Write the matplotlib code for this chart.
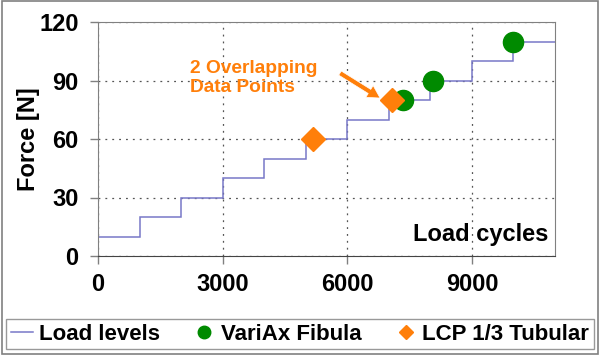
import matplotlib
matplotlib.use("Agg")
import matplotlib.pyplot as plt
from matplotlib.patches import Rectangle

plt.rcParams['font.family'] = ['Liberation Sans', 'DejaVu Sans']
plt.rcParams['font.weight'] = 'bold'

# load levels: one step per 1000 cycles
step_edges = [0, 1000, 2000, 3000, 4000, 5000, 6000, 7000, 8000, 9000, 10000, 11000]
step_levels = [10, 20, 30, 40, 50, 60, 70, 80, 90, 100, 110]

variax_cycles = [7350, 8070, 9990]
variax_force = [80, 90, 110]

lcp_cycles = [5180, 7070]
lcp_force = [60, 80]

x_ticks = [0, 3000, 6000, 9000]
y_ticks = [0, 30, 60, 90, 120]

orange = '#ff7f0a'
green = '#008a00'
gray = '#808080'

fig = plt.figure(figsize=(6, 3.55), dpi=100)
ax = fig.add_axes([98/600, 1 - 256/355, (555-98)/600, (256-22)/355])

ax.stairs(step_levels, step_edges, baseline=None, color='#7878c8', lw=1.1,
          label='Load levels', zorder=2)
ax.plot(variax_cycles, variax_force, 'o', color=green, ms=14.5, mec=green,
        label='VariAx Fibula', zorder=3)
ax.plot(lcp_cycles, lcp_force, 'D', color=orange, ms=12, mec=orange,
        label='LCP 1/3 Tubular', zorder=4)

ax.set_xlim(0, 11000)
ax.set_ylim(0, 120)
ax.set_xticks(x_ticks)
ax.set_yticks(y_ticks)
ax.grid(True, linestyle=(0, (1.5, 4)), color='#555555', lw=0.9)
ax.tick_params(axis='both', labelsize=17, direction='out', length=6,
               color=gray, width=1)
ax.tick_params(axis='x', pad=6)
ax.tick_params(axis='y', pad=8)
for s in ax.spines.values():
    s.set_color(gray)
ax.spines['bottom'].set_color('#444444')

ax.set_ylabel('Force [N]', fontsize=17, fontweight='bold', labelpad=-1)
ax.text(0.985, 0.09, 'Load cycles', transform=ax.transAxes, ha='right',
        va='center', fontsize=17, fontweight='bold')

ax.text(2214, 91.5, '2 Overlapping\nData Points', ha='left', va='center',
        color=orange, fontsize=13.8, fontweight='bold', linespacing=1.15)
ax.annotate('', xy=(6790, 81.0), xytext=(5825, 93.8),
            arrowprops=dict(facecolor=orange, edgecolor='white', lw=0.5,
                            width=3.5, headwidth=10, headlength=9, shrink=0))

fig.legend(loc='center', bbox_to_anchor=(0.5, 1 - 334/355), ncol=3,
           fontsize=16, frameon=True, fancybox=False, edgecolor=gray,
           handlelength=1.0, handletextpad=0.25, columnspacing=1.5,
           borderpad=0.2, markerscale=0.62)

fig.patches.append(Rectangle((0.003, 0.004), 0.994, 0.992, transform=fig.transFigure,
                             fill=False, edgecolor=gray, lw=1.2))

fig.savefig('out.png', dpi=100)
